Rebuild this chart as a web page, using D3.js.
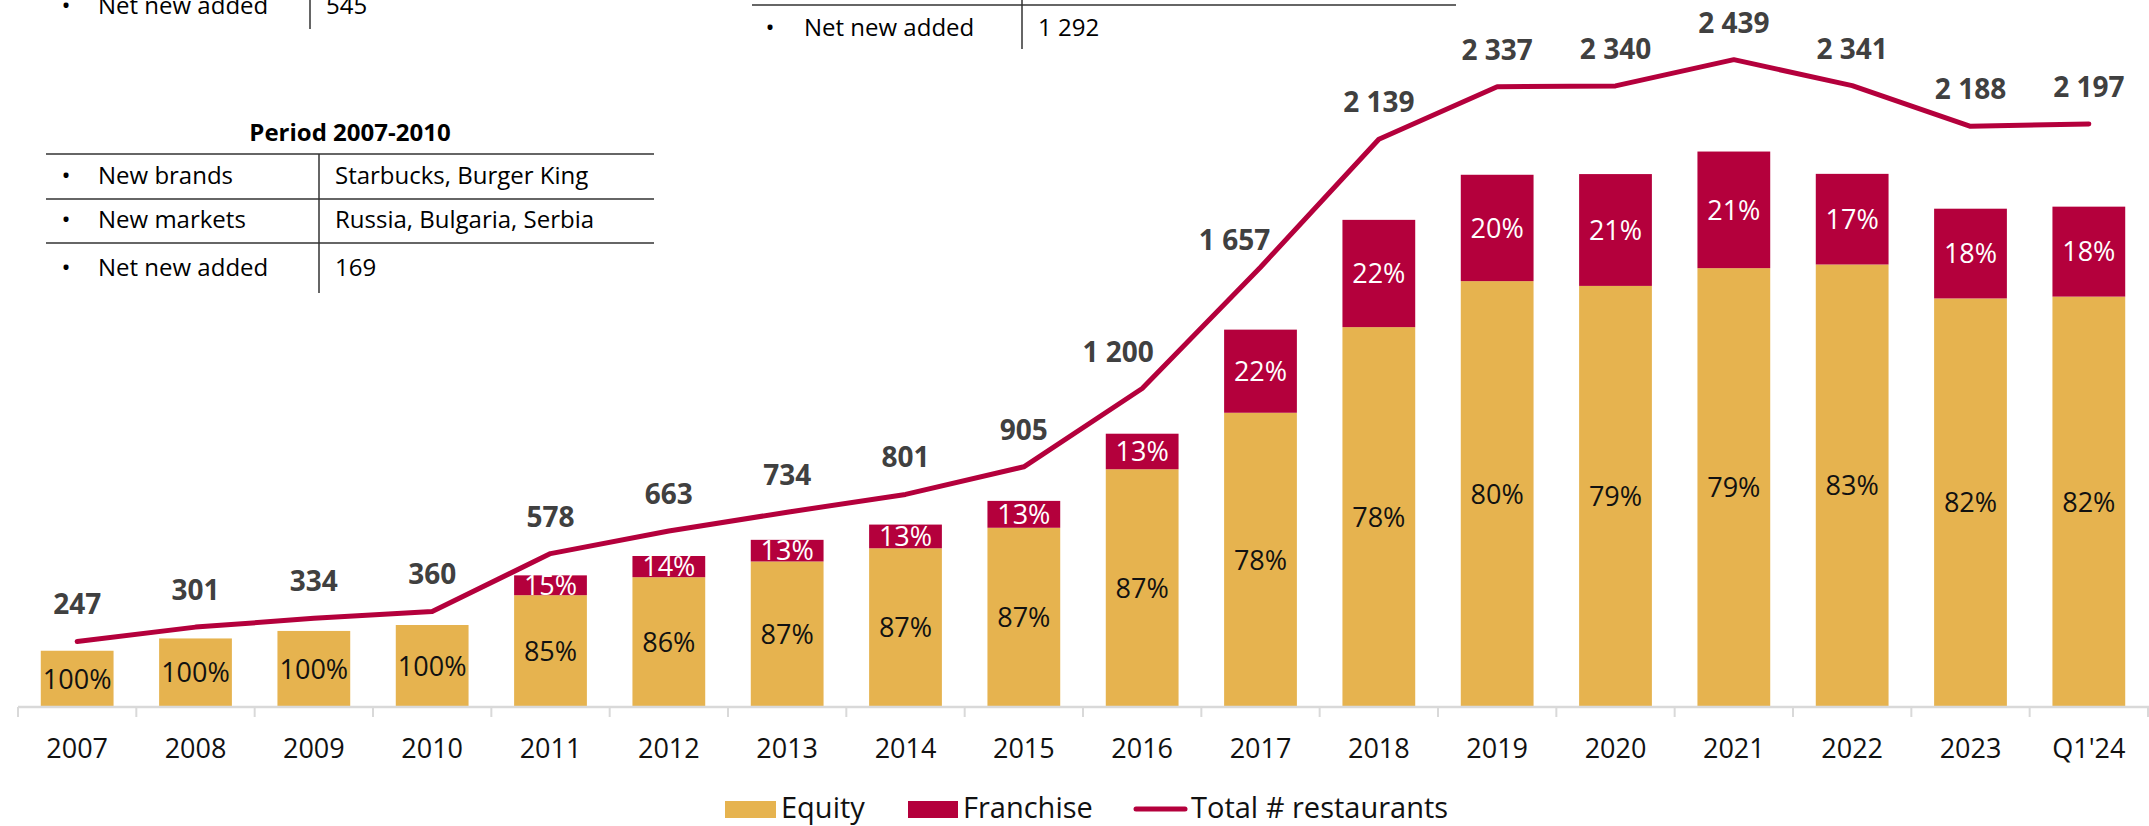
<!DOCTYPE html>
<html>
<head>
<meta charset="utf-8">
<script src="https://cdn.jsdelivr.net/npm/d3@7"></script>
<style>
    body { margin: 0; background: #fff; }
    svg { display: block; font-family: "Open Sans", "Noto Sans", sans-serif; }
</style>
</head>
<body>
<div id="chart"></div>
<script>
// Restaurant count per year, split by ownership type
const categories = ["2007", "2008", "2009", "2010", "2011", "2012", "2013", "2014", "2015",
    "2016", "2017", "2018", "2019", "2020", "2021", "2022", "2023", "Q1'24"];
const totals = [247, 301, 334, 360, 578, 663, 734, 801, 905, 1200, 1657, 2139, 2337, 2340, 2439, 2341, 2188, 2197];
const equity = [247, 301, 334, 360, 491, 570, 639, 697, 787, 1044, 1292, 1668, 1870, 1849, 1927, 1943, 1794, 1802];
const franchise = [0, 0, 0, 0, 87, 93, 95, 104, 118, 156, 365, 471, 467, 491, 512, 398, 394, 395];
const equityLabels = ["100%", "100%", "100%", "100%", "85%", "86%", "87%", "87%", "87%",
    "87%", "78%", "78%", "80%", "79%", "79%", "83%", "82%", "82%"];
const franchiseLabels = ["", "", "", "", "15%", "14%", "13%", "13%", "13%",
    "13%", "22%", "22%", "20%", "21%", "21%", "17%", "18%", "18%"];

// Side tables (partly cut off at the top of the slide)
const topLeftRow = ["Net new added", "545"];
const topMidRow = ["Net new added", "1 292"];
const periodTitle = "Period 2007-2010";
const periodRows = [
    ["New brands", "Starbucks, Burger King"],
    ["New markets", "Russia, Bulgaria, Serbia"],
    ["Net new added", "169"]
];

const legendItems = ["Equity", "Franchise", "Total # restaurants"];

const width = 2149;
const height = 826;
const axisY = 707;
const colEquity = "#E6B34F";
const colFranchise = "#B4003C";

const svg = d3.select("#chart")
    .append("svg")
    .attr("width", width)
    .attr("height", height);

// Scales: bars and line use separate value axes (both hidden)
const x = d3.scaleBand()
    .domain(categories)
    .range([18, 2148])
    .paddingInner(0.385)
    .paddingOuter(0.1925);

const yBar = d3.scaleLinear().domain([0, 3100]).range([axisY, 1]);
const yLine = d3.scaleLinear().domain([0, 2660]).range([axisY, 1]);

const cx = d => x(d) + x.bandwidth() / 2;
const fmt = d3.formatLocale({ thousands: " ", grouping: [3], decimal: ".", currency: ["", ""] }).format(",");

// Bars
const bars = svg.append("g");
bars.selectAll("rect.eq")
    .data(categories)
    .enter()
    .append("rect")
    .attr("x", d => x(d))
    .attr("width", x.bandwidth())
    .attr("y", (d, i) => yBar(equity[i]))
    .attr("height", (d, i) => axisY - yBar(equity[i]))
    .attr("fill", colEquity);

bars.selectAll("rect.fr")
    .data(categories)
    .enter()
    .append("rect")
    .attr("x", d => x(d))
    .attr("width", x.bandwidth())
    .attr("y", (d, i) => yBar(equity[i] + franchise[i]))
    .attr("height", (d, i) => yBar(equity[i]) - yBar(equity[i] + franchise[i]))
    .attr("fill", colFranchise);

// Percentage labels inside bars
bars.selectAll("text.eq")
    .data(categories)
    .enter()
    .append("text")
    .attr("x", d => cx(d))
    .attr("y", (d, i) => (yBar(equity[i]) + axisY) / 2)
    .attr("dy", "0.36em")
    .attr("text-anchor", "middle")
    .style("font-size", "27px")
    .attr("fill", "#111")
    .text((d, i) => equityLabels[i]);

bars.selectAll("text.fr")
    .data(categories)
    .enter()
    .append("text")
    .attr("x", d => cx(d))
    .attr("y", (d, i) => (yBar(equity[i]) + yBar(equity[i] + franchise[i])) / 2)
    .attr("dy", "0.36em")
    .attr("text-anchor", "middle")
    .style("font-size", "27px")
    .attr("fill", "#fff")
    .text((d, i) => franchiseLabels[i]);

// Category axis: light baseline, ticks between bands
svg.append("line")
    .attr("x1", 18).attr("x2", width)
    .attr("y1", axisY).attr("y2", axisY)
    .attr("stroke", "#d9d9d9")
    .attr("stroke-width", 2.5);

svg.append("g")
    .selectAll("line")
    .data(categories.concat(["end"]))
    .enter()
    .append("line")
    .attr("x1", (d, i) => 18 + i * x.step())
    .attr("x2", (d, i) => 18 + i * x.step())
    .attr("y1", axisY)
    .attr("y2", axisY + 10)
    .attr("stroke", "#d9d9d9")
    .attr("stroke-width", 2);

const xAxis = d3.axisBottom(x).tickSize(0).tickPadding(0);
const gx = svg.append("g")
    .attr("transform", `translate(0, ${axisY})`)
    .call(xAxis);
gx.select(".domain").remove();
gx.selectAll("text")
    .attr("y", 51)
    .attr("dy", 0)
    .style("font-family", "\"Open Sans\", sans-serif")
    .style("font-size", "27px")
    .attr("fill", "#111");

// Total restaurants line
const line = d3.line()
    .x((d, i) => cx(categories[i]))
    .y(d => yLine(d));

svg.append("path")
    .datum(totals)
    .attr("d", line)
    .attr("fill", "none")
    .attr("stroke", colFranchise)
    .attr("stroke-width", 5)
    .attr("stroke-linejoin", "round")
    .attr("stroke-linecap", "round");

// steep segments push the label off to the left
const labelShift = { "2016": [-24, -27], "2017": [-26, -17] };

svg.append("g")
    .selectAll("text")
    .data(totals)
    .enter()
    .append("text")
    .attr("x", (d, i) => cx(categories[i]) + (labelShift[categories[i]] || [0, -27])[0])
    .attr("y", (d, i) => yLine(d) + (labelShift[categories[i]] || [0, -27])[1])
    .attr("text-anchor", "middle")
    .style("font-size", "28px")
    .style("font-weight", "bold")
    .attr("fill", "#404040")
    .text(d => fmt(d));

// Legend
const legend = svg.append("g").style("font-size", "29px").attr("fill", "#111");
legend.append("rect").attr("x", 725).attr("y", 801).attr("width", 51).attr("height", 17).attr("fill", colEquity);
legend.append("text").attr("x", 781).attr("y", 818).text(legendItems[0]);
legend.append("rect").attr("x", 908).attr("y", 801).attr("width", 50).attr("height", 17).attr("fill", colFranchise);
legend.append("text").attr("x", 963).attr("y", 818).text(legendItems[1]);
legend.append("line")
    .attr("x1", 1136).attr("x2", 1185)
    .attr("y1", 809).attr("y2", 809)
    .attr("stroke", colFranchise)
    .attr("stroke-width", 5)
    .attr("stroke-linecap", "round");
legend.append("text").attr("x", 1191).attr("y", 818).text(legendItems[2]);

// Tables
const tables = svg.append("g").style("font-size", "24px").attr("fill", "#000");
const ruleColor = "#333";

function bulletRow(g, y, bx, lx, vx, row) {
    g.append("text").attr("x", bx).attr("y", y).attr("text-anchor", "middle").text("\u2022");
    g.append("text").attr("x", lx).attr("y", y).text(row[0]);
    g.append("text").attr("x", vx).attr("y", y).text(row[1]);
}

// top-left, only the last row is visible
bulletRow(tables, 14, 66, 98, 326, topLeftRow);
tables.append("line").attr("x1", 310).attr("x2", 310).attr("y1", 0).attr("y2", 29)
    .attr("stroke", ruleColor).attr("stroke-width", 1.5);

// top-middle, last row
tables.append("line").attr("x1", 752).attr("x2", 1456).attr("y1", 5).attr("y2", 5)
    .attr("stroke", ruleColor).attr("stroke-width", 1.5);
tables.append("line").attr("x1", 1022).attr("x2", 1022).attr("y1", 0).attr("y2", 49)
    .attr("stroke", ruleColor).attr("stroke-width", 1.5);
bulletRow(tables, 36, 770, 804, 1038, topMidRow);

// Period 2007-2010
tables.append("text")
    .attr("x", 350).attr("y", 141)
    .attr("text-anchor", "middle")
    .style("font-weight", "bold")
    .text(periodTitle);

const ruleYs = [154, 199, 243];
tables.selectAll("line.rule")
    .data(ruleYs)
    .enter()
    .append("line")
    .attr("x1", 46).attr("x2", 654)
    .attr("y1", d => d).attr("y2", d => d)
    .attr("stroke", ruleColor)
    .attr("stroke-width", 1.5);
tables.append("line").attr("x1", 319).attr("x2", 319).attr("y1", 154).attr("y2", 293)
    .attr("stroke", ruleColor).attr("stroke-width", 1.5);

const rowYs = [184, 228, 276];
periodRows.forEach((row, i) => bulletRow(tables, rowYs[i], 66, 98, 335, row));
</script>
</body>
</html>
